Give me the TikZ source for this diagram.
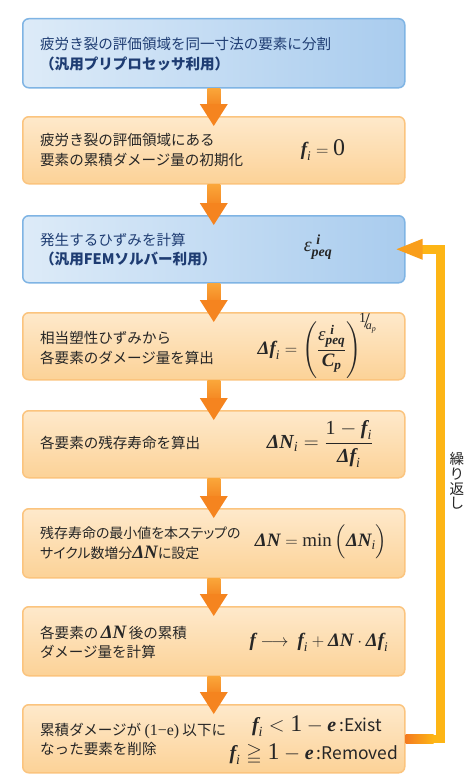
\documentclass[tikz,border=0pt]{standalone}
\usepackage{fontspec}
\usepackage{amsmath,amssymb}
\setmainfont{Noto Sans CJK JP}
\newfontfamily\jpp{Noto Sans CJK JP}[Script=CJK, RawFeature=+palt]
\newfontfamily\tm{Liberation Serif}
\definecolor{blueL}{HTML}{DDEBF8}
\definecolor{blueR}{HTML}{A9CCEE}
\definecolor{blueB}{HTML}{7FB4E4}
\definecolor{orT}{HTML}{FEE9CB}
\definecolor{orBt}{HTML}{FCD297}
\definecolor{orB}{HTML}{FBC47E}
\definecolor{navy}{HTML}{1E3C72}
\definecolor{ink}{HTML}{262626}
\definecolor{arrT}{HTML}{FAA63A}
\definecolor{arrB}{HTML}{F58A24}
\definecolor{arrH}{HTML}{F5841F}
\definecolor{loopY}{HTML}{FDB515}
\definecolor{loopO}{HTML}{F47B20}
\definecolor{loopH}{HTML}{F99E1B}
\newcommand\tv[1]{\text{\tm\bfseries\itshape #1}}
\newcommand\ti[1]{\text{\tm\itshape #1}}
\newcommand\tr[1]{\text{\tm #1}}
\newcommand\darr[2]{%
  \shade[top color=arrT, bottom color=arrB] ([xshift=-6.5bp]#1.south) rectangle ([xshift=6.5bp,yshift=12bp]#2.north);
  \fill[arrH] ([xshift=-14bp,yshift=12bp]#2.north) -- ([xshift=14bp,yshift=12bp]#2.north) -- ([yshift=-10bp]#2.north) -- cycle;}
\begin{document}
\begin{tikzpicture}[x=1bp,y=-1bp,
  boxbase/.style={rounded corners=6bp, line width=1.5bp, minimum width=382bp, anchor=north west, inner sep=0pt},
  bluebox/.style={boxbase, draw=blueB, left color=blueL, right color=blueR},
  orbox/.style={boxbase, draw=orB, top color=orT, bottom color=orBt},
  jtext/.style={anchor=west, align=left, inner sep=0pt, font=\fontsize{14.6}{19.5}\selectfont},
  btext/.style={jtext, text=navy},
  otext/.style={jtext, text=ink},
  mathnode/.style={inner sep=0pt, text=ink, font=\fontsize{19}{22}\selectfont}]
\useasboundingbox (0,0) rectangle (473,784);
\fill[white] (0,0) rectangle (473,784);

% boxes
\node[bluebox, minimum height=69bp] (b1) at (22,18) {};
\node[orbox, minimum height=67bp] (b2) at (22,116) {};
\node[bluebox, minimum height=67bp] (b3) at (22,215) {};
\node[orbox, minimum height=67bp] (b4) at (22,312) {};
\node[orbox, minimum height=67bp] (b5) at (22,410) {};
\node[orbox, minimum height=69bp] (b6) at (22,508) {};
\node[orbox, minimum height=69bp] (b7) at (22,606) {};
\node[orbox, minimum height=68bp] (b8) at (22,704) {};

% down arrows
\darr{b1}{b2}
\darr{b2}{b3}
\darr{b3}{b4}
\darr{b4}{b5}
\darr{b5}{b6}
\darr{b6}{b7}
\darr{b7}{b8}

% loop arrow
\draw[loopY, line width=8.5bp, line join=miter] (b8.east) -| ([xshift=35bp]b3.east) -- ([xshift=16bp]b3.east);
\shade[left color=loopO, right color=loopY] ([yshift=4.25bp]b8.east) rectangle ([xshift=28bp,yshift=-4.25bp]b8.east);
\fill[loopH] ([xshift=17bp,yshift=10.5bp]b3.east) -- ([xshift=17bp,yshift=-10.5bp]b3.east) -- ([xshift=-9bp]b3.east) -- cycle;
\node[inner sep=0pt, align=center, text=ink, font=\fontsize{14.6}{14.8}\selectfont] (lbl) at (457,481) {繰\\り\\返\\し};

% texts
\node[btext] (t1) at (40,54) {疲労き裂の評価領域を同一寸法の要素に分割\\{\bfseries （汎用プリプロセッサ利用）}};
\node[otext] (t2) at (40,150) {疲労き裂の評価領域にある\\要素の累積ダメージ量の初期化};
\node[btext] (t3) at (40,249.5) {発生するひずみを計算\\{\bfseries （汎用FEMソルバー利用）}};
\node[otext] (t4) at (40,348) {相当塑性ひずみから\\各要素のダメージ量を算出};
\node[otext] (t5) at (40,443) {各要素の残存寿命を算出};
\node[otext, font=\jpp\fontsize{14}{19.5}\selectfont] (t6) at (40,543) {残存寿命の最小値を本ステップの\\サイクル数増分{\tm\bfseries\itshape\fontsize{19}{19.5}\selectfont ΔN}に設定};
\node[otext] (t7) at (40,642.5) {各要素の\,{\tm\bfseries\itshape\fontsize{19}{19.5}\selectfont ΔN}\,後の累積\\ダメージ量を計算};
\node[otext] (t8) at (40,739.5) {累積ダメージが {\tm\fontsize{16}{19.5}\selectfont (1−e)} 以下に\\なった要素を削除};

% formulas
\node[mathnode] (f2) at (323,150) {$\tv{f}_{\ti{i}} = \text{\tm\fontsize{24}{24}\selectfont 0}$};
\node[mathnode, font=\fontsize{20}{22}\selectfont] (f3) at (318,247) {$\ti{ε}^{\,\,\tv{i}}_{\tv{peq}}$};
\node[mathnode] (f4) at (317,346) {$\tv{Δ}\tv{f}_{\ti{i}} = \Biggl(\dfrac{\ti{ε}^{\,\,\tv{i}}_{\tv{peq}}}{\tv{C}_{\tv{p}}}\Biggr)^{\!\text{\tm\raisebox{5bp}{\fontsize{14}{14}\selectfont 1}\kern-2bp{\fontsize{21}{21}\selectfont /}\kern-4bp\raisebox{-2bp}{\itshape\fontsize{12}{12}\selectfont a\raisebox{-2bp}{\fontsize{8}{8}\selectfont p}}}}$};
\node[mathnode, font=\fontsize{20}{22}\selectfont] (f5) at (320,444) {$\tv{Δ}\tv{N}_{\ti{i}} = \dfrac{\tr{1}-\tv{f}_{\ti{i}}}{\tv{Δ}\tv{f}_{\ti{i}}}$};
\node[mathnode] (f6) at (321,542) {$\tv{ΔN} = \tr{min}\,\Bigl(\tv{ΔN}_{\ti{i}}\Bigr)$};
\node[mathnode] (f7) at (319,642) {$\tv{f}\longrightarrow\ \tv{f}_{\ti{i}}+\tv{ΔN}\cdot\tv{Δ}\tv{f}_{\ti{i}}$};
\node[mathnode, font=\fontsize{20}{22}\selectfont] (f8a) at (317,726) {$\tv{f}_{\ti{i}} < \text{\tm\fontsize{24}{24}\selectfont 1}-\tv{e}$\,{\fontsize{17.5}{18}\selectfont :Exist}};
\node[mathnode, font=\fontsize{20}{22}\selectfont] (f8b) at (314,754) {$\tv{f}_{\ti{i}} \geqq \text{\tm\fontsize{24}{24}\selectfont 1}-\tv{e}$\,{\fontsize{17.5}{18}\selectfont :Removed}};
\end{tikzpicture}
\end{document}
